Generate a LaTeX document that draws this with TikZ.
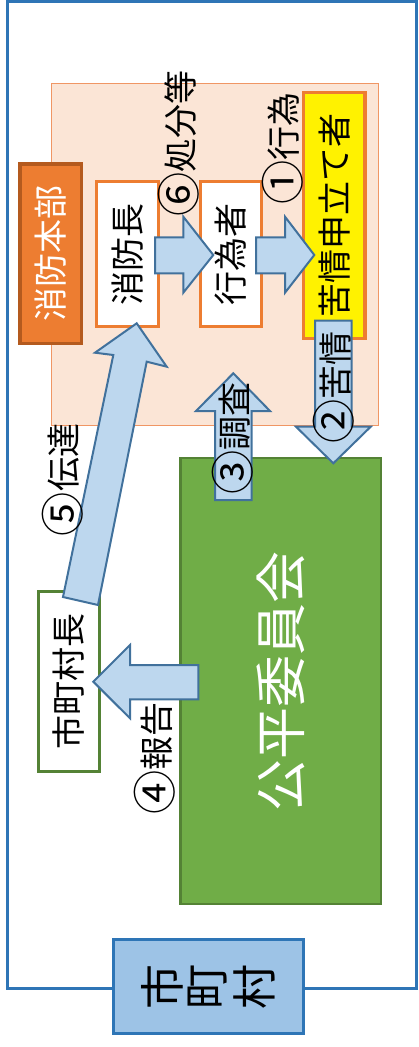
\documentclass[tikz,border=0pt]{standalone}
\usepackage{fontspec}
\usepackage{graphicx}
\newfontfamily\jp{Noto Sans CJK JP}
\newcommand{\cnum}[1]{\raisebox{-0.08em}{\scalebox{1.3}{#1}}}
\definecolor{frameblue}{RGB}{46,117,182}
\definecolor{shifill}{RGB}{157,195,230}
\definecolor{peach}{RGB}{251,229,214}
\definecolor{peachline}{RGB}{240,150,100}
\definecolor{orng}{RGB}{237,125,49}
\definecolor{orngdark}{RGB}{180,90,30}
\definecolor{grn}{RGB}{112,173,71}
\definecolor{grndark}{RGB}{84,130,53}
\definecolor{arrfill}{RGB}{189,215,238}
\definecolor{arrdraw}{RGB}{65,113,156}
\begin{document}
\begin{tikzpicture}[x=1pt,y=-1pt,
  lbl/.style={rotate=90,inner sep=0pt,font=\jp\fontsize{34}{34}\selectfont},
  box/.style={draw=orng,line width=3pt,fill=white,rotate=90,inner sep=0pt,font=\jp\fontsize{34}{34}\selectfont},
  barrow/.style={fill=arrfill,draw=arrdraw,line width=2pt,line join=miter}]
\useasboundingbox (0,0) rectangle (419,1047);
% outer frame
\draw[frameblue,line width=3pt] (7.5,1) rectangle (416.5,988.5);
% city box
\node[draw=frameblue,fill=shifill,line width=3.5pt,minimum width=190pt,minimum height=94pt,inner sep=0pt] (shi) at (208.5,986.5) {};
\node[lbl,font=\jp\fontsize{45}{45}\selectfont] (shiA) at (162,987) {市};
\node[lbl,font=\jp\fontsize{45}{45}\selectfont] (shiB) at (208,987) {町};
\node[lbl,font=\jp\fontsize{45}{45}\selectfont] (shiC) at (254,987) {村};
% fire department area
\node[draw=peachline,fill=peach,line width=1pt,minimum width=327pt,minimum height=342pt,inner sep=0pt] (area) at (214.5,254) {};
\node[box,fill=orng,draw=orngdark,text=white,line width=3.5pt,minimum width=179.5pt,minimum height=61.5pt] (honbu) at (50.75,253.75) {消防本部};
\node[box,minimum width=145pt,minimum height=62pt] (chief) at (127.5,254) {消防長};
\node[box,minimum width=145pt,minimum height=61pt] (actor) at (231,254) {行為者};
\node[box,fill=yellow,line width=3.5pt,minimum width=246pt,minimum height=61.5pt] (comp) at (334.25,215.5) {苦情申立て者};
% committee
\node[draw=grndark,fill=grn,line width=2.5pt,rotate=90,minimum width=446pt,minimum height=200.5pt,inner sep=0pt,text=white,font=\jp\fontsize{52}{52}\selectfont] (comm) at (280.75,681) {公平委員会};
\node[box,draw=grndark,minimum width=180pt,minimum height=61pt] (mayor) at (69,681.5) {市町村長};
% block arrows
\draw[barrow] (155,237.3) -- (183.3,237.3) -- (183.3,216.7) -- (213.3,255) -- (183.3,292.7) -- (183.3,273.3) -- (155,273.3) -- cycle;
\draw[barrow] (256,237.3) -- (285,237.3) -- (285,216.7) -- (314.3,255) -- (285,292.7) -- (285,273.3) -- (256,273.3) -- cycle;
\draw[barrow] (315,320.7) -- (351.7,320.7) -- (351.7,426.7) -- (370.7,426.7) -- (333.3,463.3) -- (296,426.7) -- (315,426.7) -- cycle;
\draw[barrow] (215,500) -- (215,411) -- (196,411) -- (233.3,373.3) -- (270,411) -- (251.7,411) -- (251.7,500) -- cycle;
\draw[barrow] (198.3,665) -- (130,665) -- (130,645) -- (93.3,681.7) -- (130,718.3) -- (130,699.3) -- (198.3,699.3) -- cycle;
\draw[barrow] (63,597) -- (113.3,355) -- (95,352.7) -- (136.7,323.3) -- (166.7,366.7) -- (146.7,361.7) -- (98,605) -- cycle;
% labels
\node[lbl] (l6) at (179,143.5) {\cnum{⑥}処分等};
\node[lbl] (l1) at (282.5,148.5) {\cnum{①}行為};
\node[lbl] (l2) at (334,387.5) {\cnum{②}苦情};
\node[lbl] (l3) at (233,438.5) {\cnum{③}調査};
\node[lbl] (l5) at (62.5,480) {\cnum{⑤}伝達};
\node[lbl] (l4) at (155,758.5) {\cnum{④}報告};
\end{tikzpicture}
\end{document}
